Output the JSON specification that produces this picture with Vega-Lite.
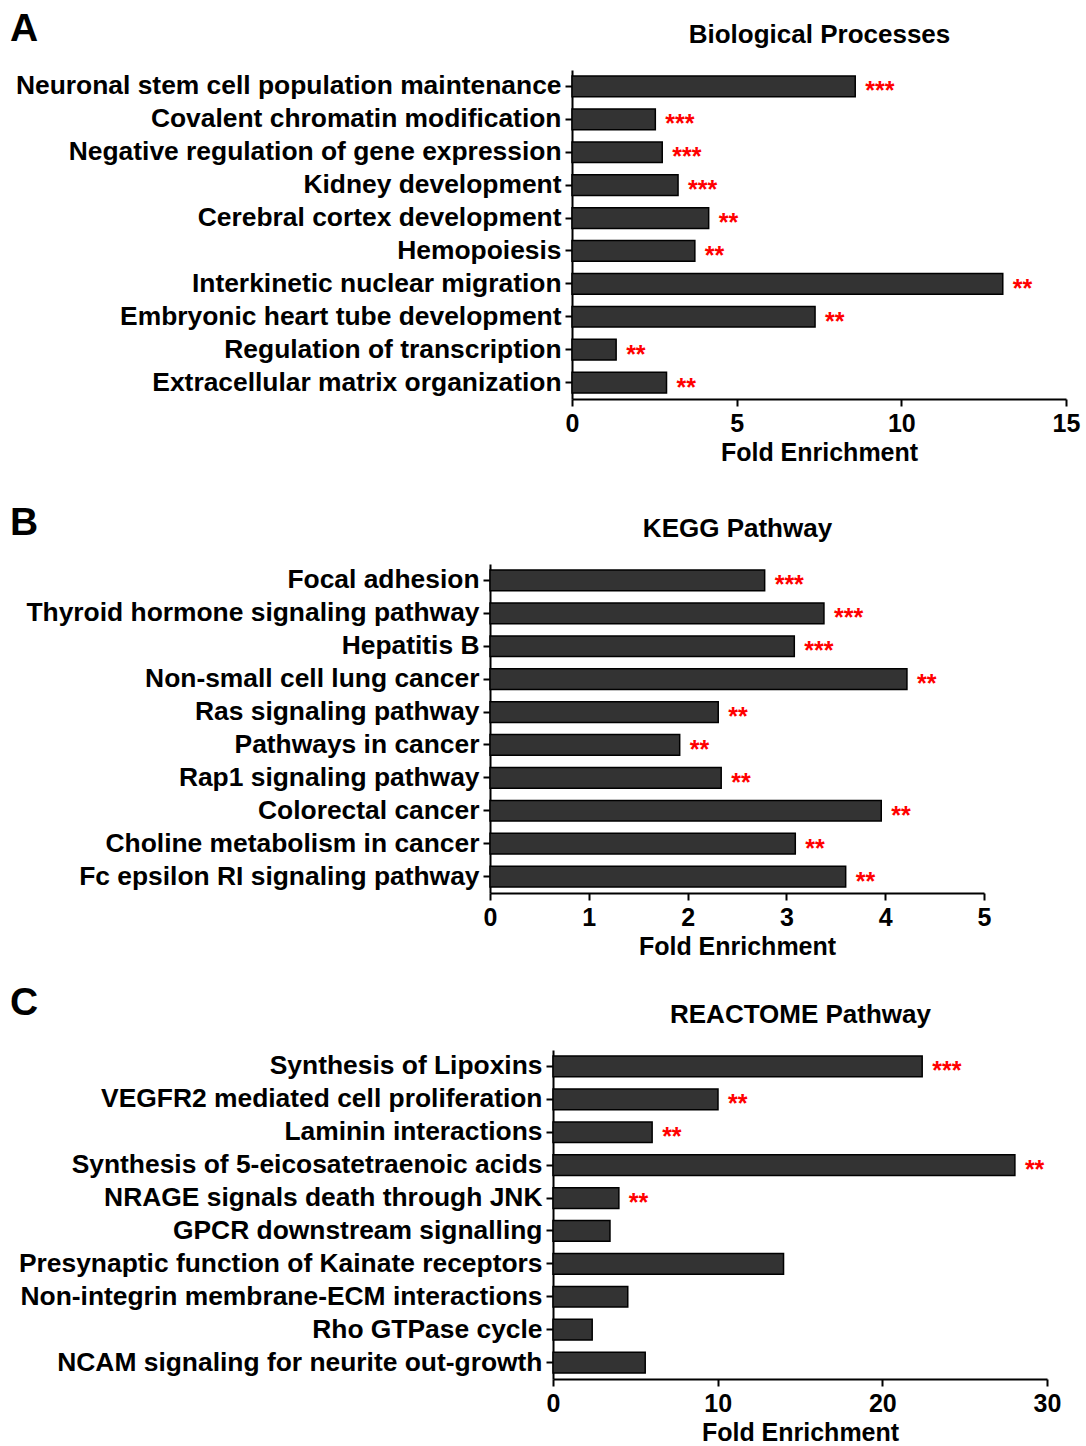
{
  "$schema": "https://vega.github.io/schema/vega-lite/v6.json",
  "padding": {"left": 10, "top": 9, "right": 5, "bottom": 5},
  "background": "white",
  "spacing": 38,
  "config": {
    "font": "Liberation Sans",
    "view": {"stroke": null},
    "axis": {"domainColor": "black", "domainWidth": 2, "tickColor": "black", "tickWidth": 2, "tickSize": 7, "labelColor": "black", "labelFont": "Liberation Sans", "labelFontWeight": "bold", "titleFont": "Liberation Sans", "titleFontWeight": "bold", "titleColor": "black", "grid": false},
    "title": {"font": "Liberation Sans", "fontWeight": "bold", "fontSize": 39, "color": "black", "anchor": "start", "frame": "group", "baseline": "alphabetic"}
  },
  "datasets": {
    "none": [],
    "bp": [
      {"term": "Neuronal stem cell population maintenance", "fe": 8.6, "sig": "***"},
      {"term": "Covalent chromatin modification", "fe": 2.53, "sig": "***"},
      {"term": "Negative regulation of gene expression", "fe": 2.74, "sig": "***"},
      {"term": "Kidney development", "fe": 3.22, "sig": "***"},
      {"term": "Cerebral cortex development", "fe": 4.15, "sig": "**"},
      {"term": "Hemopoiesis", "fe": 3.73, "sig": "**"},
      {"term": "Interkinetic nuclear migration", "fe": 13.08, "sig": "**"},
      {"term": "Embryonic heart tube development", "fe": 7.38, "sig": "**"},
      {"term": "Regulation of transcription", "fe": 1.34, "sig": "**"},
      {"term": "Extracellular matrix organization", "fe": 2.87, "sig": "**"}
    ],
    "kegg": [
      {"term": "Focal adhesion", "fe": 2.78, "sig": "***"},
      {"term": "Thyroid hormone signaling pathway", "fe": 3.38, "sig": "***"},
      {"term": "Hepatitis B", "fe": 3.08, "sig": "***"},
      {"term": "Non-small cell lung cancer", "fe": 4.22, "sig": "**"},
      {"term": "Ras signaling pathway", "fe": 2.31, "sig": "**"},
      {"term": "Pathways in cancer", "fe": 1.92, "sig": "**"},
      {"term": "Rap1 signaling pathway", "fe": 2.34, "sig": "**"},
      {"term": "Colorectal cancer", "fe": 3.96, "sig": "**"},
      {"term": "Choline metabolism in cancer", "fe": 3.09, "sig": "**"},
      {"term": "Fc epsilon RI signaling pathway", "fe": 3.6, "sig": "**"}
    ],
    "reactome": [
      {"term": "Synthesis of Lipoxins", "fe": 22.42, "sig": "***"},
      {"term": "VEGFR2 mediated cell proliferation", "fe": 10.02, "sig": "**"},
      {"term": "Laminin interactions", "fe": 6.02, "sig": "**"},
      {"term": "Synthesis of 5-eicosatetraenoic acids", "fe": 28.05, "sig": "**"},
      {"term": "NRAGE signals death through JNK", "fe": 4.0, "sig": "**"},
      {"term": "GPCR downstream signalling", "fe": 3.46, "sig": ""},
      {"term": "Presynaptic function of Kainate receptors", "fe": 14.0, "sig": ""},
      {"term": "Non-integrin membrane-ECM interactions", "fe": 4.54, "sig": ""},
      {"term": "Rho GTPase cycle", "fe": 2.38, "sig": ""},
      {"term": "NCAM signaling for neurite out-growth", "fe": 5.6, "sig": ""}
    ]
  },
  "vconcat": [
    {"hconcat": [
      {"title": {"text": "A", "offset": 21.5}, "width": 562, "height": 1, "data": {"name": "none"}, "mark": {"type": "point", "opacity": 0}},
      {
        "width": 494, "height": 329,
        "data": {"name": "bp"},
        "resolve": {"axis": {"x": "independent"}},
        "encoding": {
          "y": {"field": "term", "type": "nominal", "sort": null, "scale": {"paddingInner": 0.37, "paddingOuter": 0.185}, "axis": {"title": null, "labelFontSize": 26.4, "labelLimit": 0, "labelPadding": 4}}
        },
        "layer": [
          {"mark": {"type": "bar", "fill": "#333333", "stroke": "black", "strokeWidth": 1.5},
           "encoding": {
             "x": {"field": "fe", "type": "quantitative", "scale": {"domain": [0, 15], "nice": false}, "axis": {"orient": "bottom", "values": [0, 5, 10, 15], "title": "Fold Enrichment", "labelFontSize": 25, "titleFontSize": 25, "labelFlush": false, "labelPadding": 5, "titlePadding": 4}}
           }},
          {"mark": {"type": "text", "color": "#FF0000", "fontSize": 25, "fontWeight": "bold", "align": "left", "baseline": "alphabetic", "dx": 10, "dy": 13},
           "encoding": {
             "x": {"field": "fe", "type": "quantitative", "axis": {"orient": "top", "title": "Biological Processes", "labels": false, "ticks": false, "domain": false, "titleFontSize": 26, "titlePadding": 22.5}},
             "text": {"field": "sig"}
           }}
        ]
      }
    ], "bounds": "flush", "spacing": 0},
    {
      "spacing": 24,
      "vconcat": [
        {"hconcat": [
          {"title": {"text": "B", "offset": 21.5}, "width": 480, "height": 1, "data": {"name": "none"}, "mark": {"type": "point", "opacity": 0}},
          {
            "width": 494, "height": 329,
            "data": {"name": "kegg"},
            "resolve": {"axis": {"x": "independent"}},
            "encoding": {
              "y": {"field": "term", "type": "nominal", "sort": null, "scale": {"paddingInner": 0.37, "paddingOuter": 0.185}, "axis": {"title": null, "labelFontSize": 26.4, "labelLimit": 0, "labelPadding": 4}}
            },
            "layer": [
              {"mark": {"type": "bar", "fill": "#333333", "stroke": "black", "strokeWidth": 1.5},
               "encoding": {
                 "x": {"field": "fe", "type": "quantitative", "scale": {"domain": [0, 5], "nice": false}, "axis": {"orient": "bottom", "values": [0, 1, 2, 3, 4, 5], "title": "Fold Enrichment", "labelFontSize": 25, "titleFontSize": 25, "labelFlush": false, "labelPadding": 5, "titlePadding": 4}}
               }},
              {"mark": {"type": "text", "color": "#FF0000", "fontSize": 25, "fontWeight": "bold", "align": "left", "baseline": "alphabetic", "dx": 10, "dy": 13},
               "encoding": {
                 "x": {"field": "fe", "type": "quantitative", "axis": {"orient": "top", "title": "KEGG Pathway", "labels": false, "ticks": false, "domain": false, "titleFontSize": 26, "titlePadding": 22.5}},
                 "text": {"field": "sig"}
               }}
            ]
          }
        ], "bounds": "flush", "spacing": 0},
        {"hconcat": [
          {"title": {"text": "C", "offset": 27.5}, "width": 543, "height": 1, "data": {"name": "none"}, "mark": {"type": "point", "opacity": 0}},
          {
            "width": 494, "height": 329,
            "data": {"name": "reactome"},
            "resolve": {"axis": {"x": "independent"}},
            "encoding": {
              "y": {"field": "term", "type": "nominal", "sort": null, "scale": {"paddingInner": 0.37, "paddingOuter": 0.185}, "axis": {"title": null, "labelFontSize": 26.4, "labelLimit": 0, "labelPadding": 4}}
            },
            "layer": [
              {"mark": {"type": "bar", "fill": "#333333", "stroke": "black", "strokeWidth": 1.5},
               "encoding": {
                 "x": {"field": "fe", "type": "quantitative", "scale": {"domain": [0, 30], "nice": false}, "axis": {"orient": "bottom", "values": [0, 10, 20, 30], "title": "Fold Enrichment", "labelFontSize": 25, "titleFontSize": 25, "labelFlush": false, "labelPadding": 5, "titlePadding": 4}}
               }},
              {"mark": {"type": "text", "color": "#FF0000", "fontSize": 25, "fontWeight": "bold", "align": "left", "baseline": "alphabetic", "dx": 10, "dy": 13},
               "encoding": {
                 "x": {"field": "fe", "type": "quantitative", "axis": {"orient": "top", "title": "REACTOME Pathway", "labels": false, "ticks": false, "domain": false, "titleFontSize": 26, "titlePadding": 22.5}},
                 "text": {"field": "sig"}
               }}
            ]
          }
        ], "bounds": "flush", "spacing": 0}
      ]
    }
  ]
}
